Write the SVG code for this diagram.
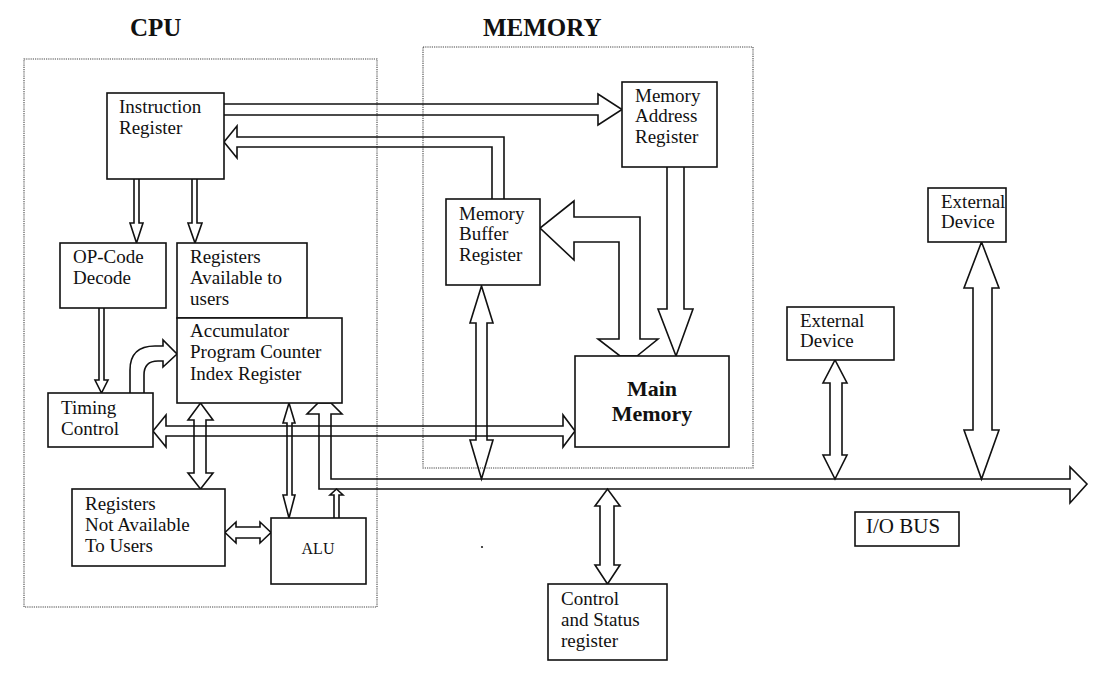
<svg xmlns="http://www.w3.org/2000/svg" width="1105" height="676" viewBox="0 0 1105 676">
<style>
  .box { fill: #fff; stroke: #111; stroke-width: 1.6; }
  .grp { fill: none; stroke: #444; stroke-width: 1.1; stroke-dasharray: 1.2 1; }
  .t { font-family: "Liberation Serif", "Times New Roman", serif; font-size: 19px; fill: #111; }
  .title { font-family: "Liberation Serif", "Times New Roman", serif; font-size: 25px; font-weight: bold; fill: #111; }
  .bold { font-family: "Liberation Serif", "Times New Roman", serif; font-size: 22px; font-weight: bold; fill: #111; }
  .conn path { fill: none; stroke: #111; stroke-width: 1.6; stroke-linejoin: miter; }
</style>
<rect width="1105" height="676" fill="#fff"/>

<g id="cpu-group">
  <rect class="grp" x="24" y="59" width="353" height="548"/>
  <text class="title" x="130" y="36">CPU</text>
</g>
<g id="memory-group">
  <rect class="grp" x="423" y="47" width="330" height="421"/>
  <text class="title" x="483" y="36">MEMORY</text>
</g>

<g id="connectors" class="conn">
  <path id="ir-mar" d="M224,104 H598 V94 L622,109.5 L598,125 V115 H224"/>
  <path id="mbr-ir" d="M504,199 V137 H237 V126 L224,142 L237,158 V147 H492 V199"/>
  <path id="ir-opcode" d="M134,179 V223 H130 L136.5,243 L143,223 H139 V179"/>
  <path id="ir-regs" d="M192,179 V223 H188 L195,243 L202,223 H197 V179"/>
  <path id="opcode-timing" d="M99,308 V380 H95 L101.5,393 L108,380 H104 V308"/>
  <path id="timing-acc" d="M130,393 V370 Q130,346 155,346 H163 V340 L177,354 L163,367 V361 H158 Q144,361 144,375 V393"/>
  <path id="timing-mainmem" d="M166,426 V415 L153,431 L166,447 V436 H563 V447 L575,431 L563,415 V426 Z"/>
  <path id="acc-regsna" d="M194,420 H188 L200.5,403 L213,420 H206 V473 H213 L200.5,489 L188,473 H194 Z"/>
  <path id="acc-alu" d="M287,423 H283 L289,403 L295,423 H292 V495 H295 L289,518 L283,495 H287 Z"/>
  <path id="regsna-alu" d="M236,527 V522 L225,532.5 L236,543 V538 H260 V543 L271,532.5 L260,522 V527 Z"/>
  <path id="iobus" d="M1070,489 H319 V414 H307 L318,403 H331 L342,414 H331 V479 H1070 V467 L1087,484 L1070,503 Z"/>
  <path id="alu-bus" d="M334,518 V495 H330 L336.5,489 L343,495 H339 V518"/>
  <path id="mbr-bus" d="M476,323 H470 L481.5,286 L493,323 H487 V440 H493 L481.5,479 L470,440 H476 Z"/>
  <path id="mainmem-mbr" d="M619,339 V242 H574 V260 L540,228 L574,201 V217 H640 V339 H658 L637,356 H620 L598,339 Z"/>
  <path id="mar-mainmem" d="M667,167 V309 H658 L676,356 L693,309 H684 V167"/>
  <path id="bus-csr" d="M600,506 H595 L607.5,489 L620,506 H614 V565 H620 L607.5,584 L595,565 H600 Z"/>
  <path id="ext1-bus" d="M830,383 H823 L835,360 L847,383 H842 V455 H847 L835,479 L823,455 H830 Z"/>
  <path id="ext2-bus" d="M973,288 H964 L981.5,242 L999,288 H992 V430 H999 L981.5,479 L964,430 H973 Z"/>
</g>

<g id="instruction-register">
  <rect class="box" x="107" y="93" width="117" height="86"/>
  <text class="t" x="119" y="113">Instruction</text>
  <text class="t" x="119" y="134">Register</text>
</g>
<g id="opcode-decode">
  <rect class="box" x="60" y="243" width="106" height="65"/>
  <text class="t" x="73" y="263">OP-Code</text>
  <text class="t" x="73" y="284">Decode</text>
</g>
<g id="registers-available">
  <rect class="box" x="177" y="243" width="130" height="75"/>
  <text class="t" x="190" y="263">Registers</text>
  <text class="t" x="190" y="284">Available to</text>
  <text class="t" x="190" y="305">users</text>
</g>
<g id="accumulator">
  <rect class="box" x="177" y="318" width="165" height="85"/>
  <text class="t" x="190" y="337">Accumulator</text>
  <text class="t" x="190" y="358">Program Counter</text>
  <text class="t" x="190" y="380">Index Register</text>
</g>
<g id="timing-control">
  <rect class="box" x="48" y="393" width="105" height="54"/>
  <text class="t" x="61" y="414">Timing</text>
  <text class="t" x="61" y="435">Control</text>
</g>
<g id="registers-not-available">
  <rect class="box" x="72" y="489" width="153" height="77"/>
  <text class="t" x="85" y="510">Registers</text>
  <text class="t" x="85" y="531">Not Available</text>
  <text class="t" x="85" y="552">To Users</text>
</g>
<g id="alu">
  <rect class="box" x="271" y="518" width="95" height="66"/>
  <text class="t" x="318" y="554" text-anchor="middle" style="font-size:16px">ALU</text>
</g>
<g id="memory-address-register">
  <rect class="box" x="622" y="82" width="95" height="85"/>
  <text class="t" x="635" y="102">Memory</text>
  <text class="t" x="635" y="122">Address</text>
  <text class="t" x="635" y="143">Register</text>
</g>
<g id="memory-buffer-register">
  <rect class="box" x="446" y="199" width="94" height="86"/>
  <text class="t" x="459" y="220">Memory</text>
  <text class="t" x="459" y="240">Buffer</text>
  <text class="t" x="459" y="261">Register</text>
</g>
<g id="main-memory">
  <rect class="box" x="575" y="356" width="154" height="91"/>
  <text class="bold" x="652" y="396" text-anchor="middle">Main</text>
  <text class="bold" x="652" y="421" text-anchor="middle">Memory</text>
</g>
<g id="control-status-register">
  <rect class="box" x="548" y="584" width="119" height="76"/>
  <text class="t" x="561" y="605">Control</text>
  <text class="t" x="561" y="626">and Status</text>
  <text class="t" x="561" y="647">register</text>
</g>
<g id="external-device-1">
  <rect class="box" x="787" y="307" width="107" height="53"/>
  <text class="t" x="800" y="327">External</text>
  <text class="t" x="800" y="347">Device</text>
</g>
<g id="external-device-2">
  <rect class="box" x="928" y="188" width="78" height="54"/>
  <text class="t" x="941" y="208">External</text>
  <text class="t" x="941" y="228">Device</text>
</g>
<g id="io-bus-label">
  <rect class="box" x="855" y="512" width="104" height="34"/>
  <text class="t" x="866" y="533" style="font-size:21px">I/O BUS</text>
</g>
<circle cx="482" cy="547" r="1.1" fill="#222"/>
</svg>
